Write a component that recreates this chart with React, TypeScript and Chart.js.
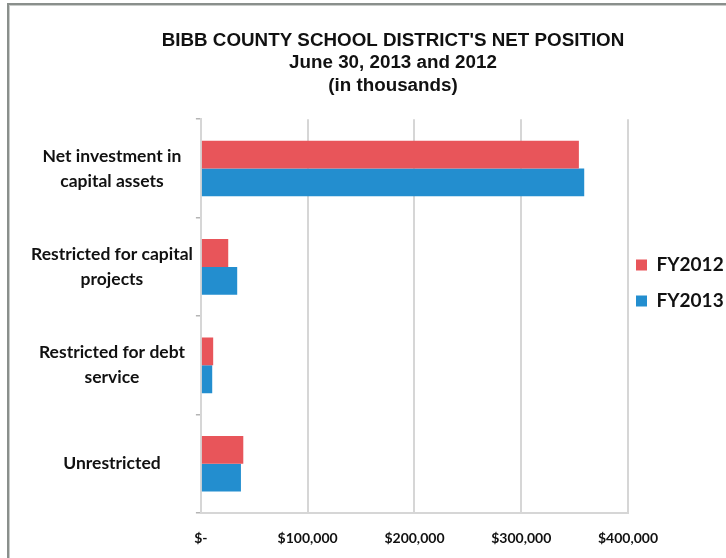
import React, { useEffect, useRef } from 'react';
import { Chart, registerables } from 'chart.js';

Chart.register(...registerables);

const titleLines = [
  "BIBB COUNTY SCHOOL DISTRICT'S NET POSITION",
  'June 30, 2013 and 2012',
  '(in thousands)',
];
const categories = [
  ['Net investment in', 'capital assets'],
  ['Restricted for capital', 'projects'],
  ['Restricted for debt', 'service'],
  ['Unrestricted'],
];
const seriesNames = ['FY2012', 'FY2013'];
const fy2012 = [354000, 25600, 11500, 39700];
const fy2013 = [359000, 34000, 10600, 37500];
const xMin = 0;
const xMax = 400000;
const xStep = 100000;

const RED = '#E8555A';
const BLUE = '#238ECF';
const LABEL_FONT = "Lato, 'Open Sans', sans-serif";

const boxShift = {
  id: 'boxShift',
  afterLayout(chart: any) {
    const lg = chart.legend;
    if (lg) {
      lg.left -= 9;
      lg.top += 4;
      lg.bottom += 4;
    }
    const tb = chart.titleBlock;
    if (tb) {
      tb.left += 16;
      tb.right += 16;
    }
  },
};

export default function App() {
  const ref = useRef<HTMLCanvasElement | null>(null);

  useEffect(() => {
    if (!ref.current) return;
    const chart = new Chart(ref.current, {
      type: 'bar',
      data: {
        labels: categories,
        datasets: [
          {
            label: seriesNames[0],
            data: fy2012,
            backgroundColor: RED,
            categoryPercentage: 0.565,
            barPercentage: 1,
          },
          {
            label: seriesNames[1],
            data: fy2013,
            backgroundColor: BLUE,
            categoryPercentage: 0.565,
            barPercentage: 1,
          },
        ],
      },
      options: {
        indexAxis: 'y',
        animation: false,
        responsive: false,
        maintainAspectRatio: false,
        layout: { padding: { left: 28, right: 0, top: 0, bottom: 0 } },
        plugins: {
          title: {
            display: true,
            text: titleLines,
            color: '#111',
            font: { family: "'Liberation Sans', Arial, sans-serif", size: 18.8, weight: 'bold', lineHeight: 1.21 },
            padding: { top: 29, bottom: 22 },
          },
          legend: {
            display: true,
            position: 'right',
            align: 'center',
            maxWidth: 98,
            labels: {
              boxWidth: 11,
              boxHeight: 11,
              padding: 17,
              color: '#111',
              font: { family: LABEL_FONT, size: 19, weight: 'bold' },
            },
          },
          tooltip: { enabled: false },
        },
        scales: {
          x: {
            type: 'linear',
            min: xMin,
            max: xMax,
            afterFit: (scale: any) => {
              scale.height = 45;
            },
            ticks: {
              stepSize: xStep,
              color: '#111',
              padding: 17,
              font: { family: LABEL_FONT, size: 14, weight: 'bold' },
              callback: (v: any) => (Number(v) === 0 ? '$-' : '$' + Number(v).toLocaleString('en-US')),
            },
            grid: { color: '#d6d6d6', lineWidth: 2, drawTicks: false },
            border: { display: true, color: '#d6d6d6', width: 2 },
          },
          y: {
            type: 'category',
            afterFit: (scale: any) => {
              scale.paddingTop = 0;
              scale.paddingBottom = 0;
            },
            ticks: {
              color: '#111',
              crossAlign: 'center',
              padding: 3,
              font: { family: LABEL_FONT, size: 17.5, weight: 'bold', lineHeight: 1.4286 },
            },
            grid: { display: true, drawOnChartArea: false, drawTicks: true, tickLength: 5, offset: true, color: '#b5b5b5', lineWidth: 1.5 },
            border: { display: true, color: '#d6d6d6', width: 2 },
          },
        },
      },
      plugins: [boxShift],
    });
    return () => chart.destroy();
  }, []);

  return (
    <div style={{ position: 'absolute', left: 0, top: 0, width: 726, height: 558, background: '#fff' }}>
      <canvas ref={ref} width={726} height={558} style={{ display: 'block', width: 726, height: 558 }} />
      <div
        style={{
          position: 'absolute',
          left: 7,
          top: 3,
          right: 0,
          bottom: 0,
          borderTop: '2px solid #8a8f8c',
          borderLeft: '2px solid #8a8f8c',
          boxShadow: 'inset 1px 1px 0 #c9ccca',
          pointerEvents: 'none',
        }}
      />
    </div>
  );
}
